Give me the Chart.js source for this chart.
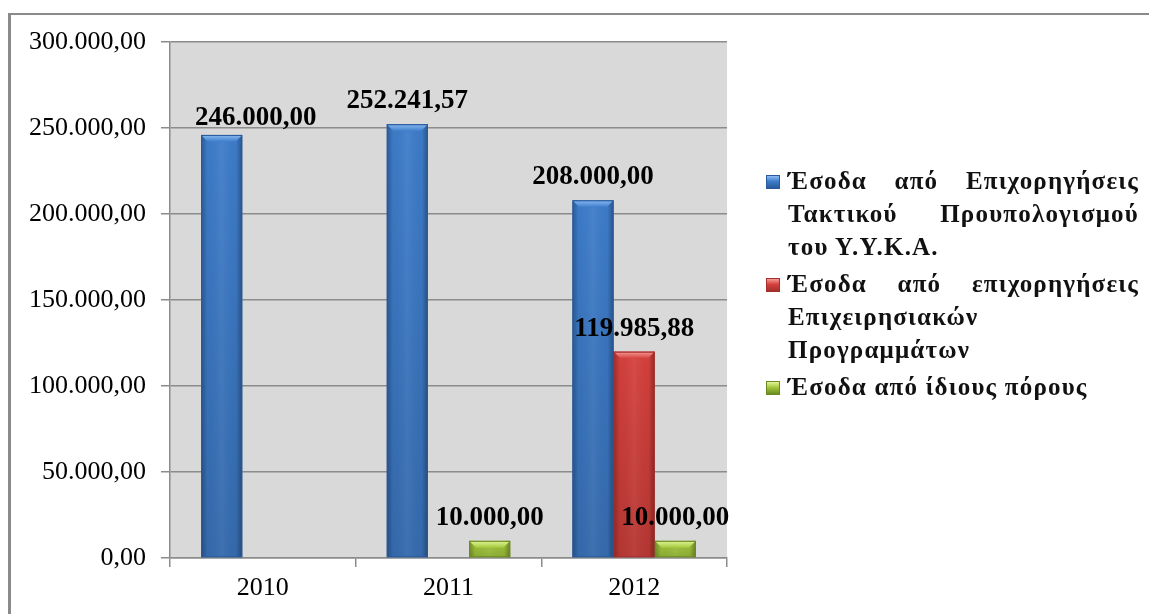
<!DOCTYPE html>
<html>
<head>
<meta charset="utf-8">
<script src="https://cdn.jsdelivr.net/npm/chart.js@4.4.1/dist/chart.umd.min.js"></script>
<style>
  html, body { margin: 0; padding: 0; background: #fff; }
  #wrap { position: relative; width: 1149px; height: 614px; overflow: hidden; }
  #frame {
    position: absolute; left: 8px; top: 13px; width: 1300px; height: 800px;
    border-top: 2px solid #8a8a8a; border-left: 3px solid #8a8a8a;
  }
  #chart { position: absolute; left: 0; top: 0; }
  #legend {
    position: absolute; left: 766px; top: 164px; width: 373px;
    font-family: "Liberation Serif", "Times New Roman", serif;
    font-weight: bold; font-size: 25px; letter-spacing: 1.2px; line-height: 33px; color: #111;
  }
  .item { display: flex; align-items: flex-start; margin-bottom: 4px; }
  .box { width: 14px; height: 14px; margin-top: 11px; margin-right: 8px; flex: none; box-sizing: border-box; }
  .txt { flex: 1; }
  .txt div.j { text-align: justify; text-align-last: justify; }
</style>
</head>
<body>
<div id="wrap">
  <div id="frame"></div>
  <canvas id="chart" width="1149" height="614"></canvas>
  <div id="legend"></div>
</div>
<script>
// years on the category axis
const years = ["2010", "2011", "2012"];

// income sources (legend text, one entry per line)
const sourceNames = [
  ["Έσοδα από Επιχορηγήσεις", "Τακτικού Προυπολογισμού", "του Υ.Υ.Κ.Α."],
  ["Έσοδα από επιχορηγήσεις", "Επιχειρησιακών", "Προγραμμάτων"],
  ["Έσοδα από ίδιους πόρους"]
];

// amounts per year
const regularBudget = [246000.00, 252241.57, 208000.00];
const operationalPrograms = [null, null, 119985.88];
const ownResources = [null, 10000.00, 10000.00];

// y axis ticks
const yTicks = [0, 50000, 100000, 150000, 200000, 250000, 300000];

const palette = [
  { base: "#3d7cca", dark: "#2a5a9c", light: "#8cbcf2" },
  { base: "#d5403c", dark: "#a52f2c", light: "#f59a96" },
  { base: "#a3c83c", dark: "#6c8a22", light: "#e2f59a" }
];

const SERIF = '"Liberation Serif", "Times New Roman", serif';

// 246.000,00 style number format
function fmt(v) {
  const parts = Number(v).toFixed(2).split(".");
  return parts[0].replace(/\B(?=(\d{3})+(?!\d))/g, ".") + "," + parts[1];
}

// grey plot background
const plotBg = {
  id: "plotBg",
  beforeDraw(chart) {
    const { ctx, chartArea: a } = chart;
    ctx.save();
    ctx.fillStyle = "#d9d9d9";
    ctx.fillRect(a.left, a.top, a.right - a.left, a.bottom - a.top);
    ctx.restore();
  }
};

// rounded-column shading and bevelled top on each bar
const bevel = {
  id: "bevel",
  afterDatasetsDraw(chart) {
    const ctx = chart.ctx;
    chart.data.datasets.forEach((ds, di) => {
      const meta = chart.getDatasetMeta(di);
      const col = palette[di];
      meta.data.forEach((bar, i) => {
        if (ds.data[i] == null) return;
        const { x, y, base, width } = bar.getProps(["x", "y", "base", "width"], true);
        const l = x - width / 2, r = x + width / 2, h = base - y;
        ctx.save();
        // side shading
        let g = ctx.createLinearGradient(l, 0, r, 0);
        g.addColorStop(0, "rgba(0,0,0,0.28)");
        g.addColorStop(0.15, "rgba(0,0,0,0.02)");
        g.addColorStop(0.5, "rgba(255,255,255,0.06)");
        g.addColorStop(0.85, "rgba(0,0,0,0.02)");
        g.addColorStop(1, "rgba(0,0,0,0.32)");
        ctx.fillStyle = g;
        ctx.fillRect(l, y, width, h);
        // darker toward the base
        g = ctx.createLinearGradient(0, y, 0, base);
        g.addColorStop(0, "rgba(0,0,0,0)");
        g.addColorStop(1, "rgba(0,0,0,0.14)");
        ctx.fillStyle = g;
        ctx.fillRect(l, y, width, h);
        // bevelled top
        const b = Math.min(7, h / 2);
        g = ctx.createLinearGradient(0, y, 0, y + b);
        g.addColorStop(0, col.light);
        g.addColorStop(1, col.base);
        ctx.fillStyle = g;
        ctx.beginPath();
        ctx.moveTo(l + 1, y + 1);
        ctx.lineTo(r - 1, y + 1);
        ctx.lineTo(r - b, y + b);
        ctx.lineTo(l + b, y + b);
        ctx.closePath();
        ctx.fill();
        ctx.strokeStyle = col.dark;
        ctx.lineWidth = 1;
        ctx.strokeRect(l + 0.5, y + 0.5, width - 1, h - 1);
        ctx.restore();
      });
    });
  }
};

// value labels above the bars
const valueLabels = {
  id: "valueLabels",
  afterDatasetsDraw(chart, args, opts) {
    const ctx = chart.ctx;
    ctx.save();
    ctx.font = "bold 27px " + SERIF;
    ctx.fillStyle = "#000";
    ctx.textAlign = "center";
    ctx.textBaseline = "alphabetic";
    chart.data.datasets.forEach((ds, di) => {
      chart.getDatasetMeta(di).data.forEach((bar, i) => {
        const v = ds.data[i];
        if (v == null) return;
        const s = opts.shift[di + ":" + i] || [0, 0];
        ctx.fillText(fmt(v), bar.x + s[0], bar.y - 16 + s[1]);
      });
    });
    ctx.restore();
  }
};

const chart = new Chart(document.getElementById("chart"), {
  type: "bar",
  data: {
    labels: years,
    datasets: [
      { label: sourceNames[0], data: regularBudget },
      { label: sourceNames[1], data: operationalPrograms },
      { label: sourceNames[2], data: ownResources }
    ].map((d, i) => Object.assign(d, {
      backgroundColor: palette[i].base,
      borderWidth: 0,
      barPercentage: 1,
      categoryPercentage: 0.665
    }))
  },
  options: {
    responsive: false,
    animation: false,
    layout: { padding: { top: 42, right: 422, bottom: 0, left: 0 } },
    plugins: {
      legend: { display: false },
      tooltip: { enabled: false },
      valueLabels: { shift: { "0:0": [34, 6] } }
    },
    scales: {
      x: {
        grid: { offset: true, drawOnChartArea: false, tickLength: 9, color: "#8c8c8c", lineWidth: 1.5 },
        border: { color: "#8c8c8c", width: 1.5 },
        ticks: { color: "#000", padding: 6, font: { family: SERIF, size: 26 } },
        afterFit(s) { s.height = 56; }
      },
      y: {
        min: yTicks[0],
        max: yTicks[yTicks.length - 1],
        afterBuildTicks(s) { s.ticks = yTicks.map(v => ({ value: v })); },
        grid: { tickLength: 9, color: "#8c8c8c", lineWidth: 1.5 },
        border: { color: "#8c8c8c", width: 1.5 },
        ticks: { color: "#000", padding: 15, font: { family: SERIF, size: 26 }, callback: v => fmt(v) },
        afterFit(s) { s.width = 170; }
      }
    }
  },
  plugins: [plotBg, bevel, valueLabels]
});

// legend built from the chart's datasets
const legend = document.getElementById("legend");
chart.data.datasets.forEach((ds, i) => {
  const col = palette[i];
  const item = document.createElement("div");
  item.className = "item";
  const box = document.createElement("div");
  box.className = "box";
  box.style.background = `linear-gradient(${col.light}, ${col.base} 45%, ${col.dark})`;
  box.style.border = `1px solid ${col.dark}`;
  const txt = document.createElement("div");
  txt.className = "txt";
  ds.label.forEach((line, k) => {
    const d = document.createElement("div");
    if (k < ds.label.length - 1) d.className = "j";
    d.textContent = line;
    txt.appendChild(d);
  });
  item.appendChild(box);
  item.appendChild(txt);
  legend.appendChild(item);
});
</script>
</body>
</html>
